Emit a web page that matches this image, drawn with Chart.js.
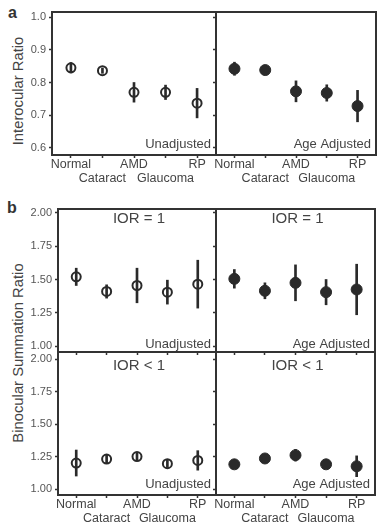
<!DOCTYPE html>
<html>
<head>
<meta charset="utf-8">
<script src="https://cdn.jsdelivr.net/npm/chart.js@4.4.1/dist/chart.umd.min.js"></script>
<style>
  body { margin: 0; background: #fff; }
  #fig { position: relative; width: 382px; height: 532px; overflow: hidden;
         font-family: Arial, "Liberation Sans", sans-serif; color: #444; }
  #fig canvas { position: absolute; }
  .lab { position: absolute; font-weight: bold; font-size: 16px; line-height: 16px; color: #333; }
  .ytitle { position: absolute; font-size: 14.8px; white-space: nowrap; color: #444;
            transform: translate(-50%, -50%) rotate(-90deg); }
</style>
</head>
<body>
<div id="fig">
  <div class="lab" style="left:8px;top:5px">a</div>
  <div class="lab" style="left:7px;top:200px">b</div>
  <div class="ytitle" style="left:18px;top:91px">Interocular Ratio</div>
  <div class="ytitle" style="left:18px;top:353px">Binocular Summation Ratio</div>
  <canvas id="aL" width="217" height="185" style="left:0;top:0"></canvas>
  <canvas id="aR" width="166" height="185" style="left:213px;top:0"></canvas>
  <canvas id="bUL" width="217" height="161" style="left:0;top:195px"></canvas>
  <canvas id="bUR" width="165" height="161" style="left:213px;top:195px"></canvas>
  <canvas id="bLL" width="217" height="185" style="left:0;top:340px"></canvas>
  <canvas id="bLR" width="165" height="185" style="left:213px;top:340px"></canvas>
</div>
<script>
// categories, shown on two staggered rows
const groups = ['Normal', 'Cataract', 'AMD', 'Glaucoma', 'RP'];

// y tick labels
const iorTicks = [0.6, 0.7, 0.8, 0.9, 1.0];
const bsrTicks = [1.00, 1.25, 1.50, 1.75, 2.00];

// interocular ratio (mean, error)
const iorUnadj    = [0.845, 0.836, 0.770, 0.770, 0.737];
const iorUnadjErr = [0.016, 0.008, 0.030, 0.022, 0.045];
const iorAge      = [0.842, 0.838, 0.773, 0.768, 0.728];
const iorAgeErr   = [0.020, 0.008, 0.032, 0.025, 0.048];

// binocular summation ratio, IOR = 1
const eqUnadj    = [1.52, 1.41, 1.455, 1.405, 1.465];
const eqUnadjErr = [0.065, 0.05, 0.13, 0.09, 0.18];
const eqAge      = [1.505, 1.415, 1.475, 1.405, 1.425];
const eqAgeErr   = [0.07, 0.06, 0.135, 0.095, 0.19];

// binocular summation ratio, IOR < 1
const ltUnadj    = [1.20, 1.23, 1.25, 1.195, 1.22];
const ltUnadjErr = [0.10, 0.035, 0.03, 0.03, 0.075];
const ltAge      = [1.19, 1.235, 1.26, 1.19, 1.175];
const ltAgeErr   = [0.015, 0.02, 0.045, 0.03, 0.08];

const FONT = 'Arial, "Liberation Sans", sans-serif';
const INK = '#2a2a2a';

// frame around the plot area and the panel captions
const panelPlugin = {
  id: 'panel',
  afterDraw(chart, args, o) {
    const { ctx, chartArea: a } = chart;
    ctx.save();
    ctx.strokeStyle = '#333';
    ctx.lineWidth = 2;
    ctx.strokeRect(a.left, a.top, a.right - a.left, a.bottom - a.top);
    ctx.fillStyle = '#444';
    if (o.corner) {
      ctx.font = '13px ' + FONT;
      ctx.textAlign = 'right';
      ctx.textBaseline = 'alphabetic';
      ctx.fillText(o.corner, a.right - 5, a.bottom - o.cornerDy);
    }
    if (o.head) {
      ctx.font = '15px ' + FONT;
      ctx.textAlign = 'center';
      ctx.textBaseline = 'middle';
      ctx.fillText(o.head, (a.left + a.right) / 2 + 2, a.top + o.headDy);
    }
    ctx.restore();
  }
};

function panel(id, p) {
  const xRows = groups.map((g, i) => i % 2 === 0 ? [g, ''] : ['', g]);
  return new Chart(document.getElementById(id), {
    type: 'scatter',
    data: {
      datasets: [
        {
          type: 'scatter',
          data: p.vals.map((v, i) => ({ x: i, y: v })),
          pointRadius: p.filled ? 5.5 : 4.5,
          pointBorderWidth: p.filled ? 1 : 2,
          pointBorderColor: INK,
          pointBackgroundColor: p.filled ? INK : 'rgba(0,0,0,0)',
          order: 0
        },
        {
          type: 'bar',
          data: p.vals.map((v, i) => ({ x: i, y: [v - p.errs[i], v + p.errs[i]] })),
          barThickness: 2,
          backgroundColor: INK,
          borderWidth: 0,
          order: 1
        }
      ]
    },
    options: {
      responsive: false,
      animation: false,
      devicePixelRatio: 1,
      events: [],
      layout: { autoPadding: false, padding: { top: p.padTop, right: p.padRight, left: 0, bottom: 0 } },
      plugins: {
        legend: { display: false },
        tooltip: { enabled: false },
        panel: { corner: p.corner, cornerDy: p.cornerDy, head: p.head, headDy: p.headDy }
      },
      scales: {
        x: {
          type: 'linear',
          min: -0.6,
          max: 4.6,
          offset: false,
          afterBuildTicks: s => { s.ticks = groups.map((g, i) => ({ value: i })); },
          afterFit: s => { s.height = p.xAxisH; s.paddingLeft = 0; s.paddingRight = 0; },
          border: { display: false },
          grid: { offset: false, drawOnChartArea: false, tickLength: 3, tickColor: '#333', tickWidth: 1.5 },
          ticks: {
            autoSkip: false,
            maxRotation: 0,
            minRotation: 0,
            padding: 0,
            color: '#444',
            font: { family: FONT, size: 12.5, lineHeight: 1.12 },
            callback: v => p.xLabels ? xRows[v] : ''
          }
        },
        y: {
          type: 'linear',
          min: p.yMin,
          max: p.yMax,
          beginAtZero: false,
          afterBuildTicks: s => { s.ticks = p.yTicks.map(v => ({ value: v })); },
          afterFit: s => { s.width = p.yAxisW; s.paddingTop = 0; s.paddingBottom = 0; },
          border: { display: false },
          grid: { drawOnChartArea: false, tickLength: 3, tickColor: '#333', tickWidth: 1.5 },
          ticks: {
            padding: 3,
            color: '#555',
            font: { family: FONT, size: 11 },
            callback: v => p.yLabels ? v.toFixed(p.yDigits) : ''
          }
        }
      }
    },
    plugins: [panelPlugin]
  });
}

const left = { yAxisW: 52, padRight: 1, yLabels: true };
const right = { yAxisW: 3, padRight: 3, yLabels: false };

const rowA = { yMin: 0.5786, yMax: 1.0153, yTicks: iorTicks, yDigits: 1, padTop: 12, xAxisH: 30, xLabels: true, cornerDy: 7 };
panel('aL', { ...rowA, ...left, vals: iorUnadj, errs: iorUnadjErr, filled: false, corner: 'Unadjusted' });
panel('aR', { ...rowA, ...right, vals: iorAge, errs: iorAgeErr, filled: true, corner: 'Age Adjusted' });

const rowB1 = { yMin: 0.955, yMax: 2.03, yTicks: bsrTicks, yDigits: 2, padTop: 14, xAxisH: 4, xLabels: false, cornerDy: 4, head: 'IOR = 1', headDy: 10 };
panel('bUL', { ...rowB1, ...left, yAxisW: 58, vals: eqUnadj, errs: eqUnadjErr, filled: false, corner: 'Unadjusted' });
panel('bUR', { ...rowB1, ...right, vals: eqAge, errs: eqAgeErr, filled: true, corner: 'Age Adjusted' });

const rowB2 = { yMin: 0.954, yMax: 2.054, yTicks: bsrTicks, yDigits: 2, padTop: 12, xAxisH: 30, xLabels: true, cornerDy: 7, head: 'IOR < 1', headDy: 14 };
panel('bLL', { ...rowB2, ...left, yAxisW: 58, vals: ltUnadj, errs: ltUnadjErr, filled: false, corner: 'Unadjusted' });
panel('bLR', { ...rowB2, ...right, vals: ltAge, errs: ltAgeErr, filled: true, corner: 'Age Adjusted' });
</script>
</body>
</html>
